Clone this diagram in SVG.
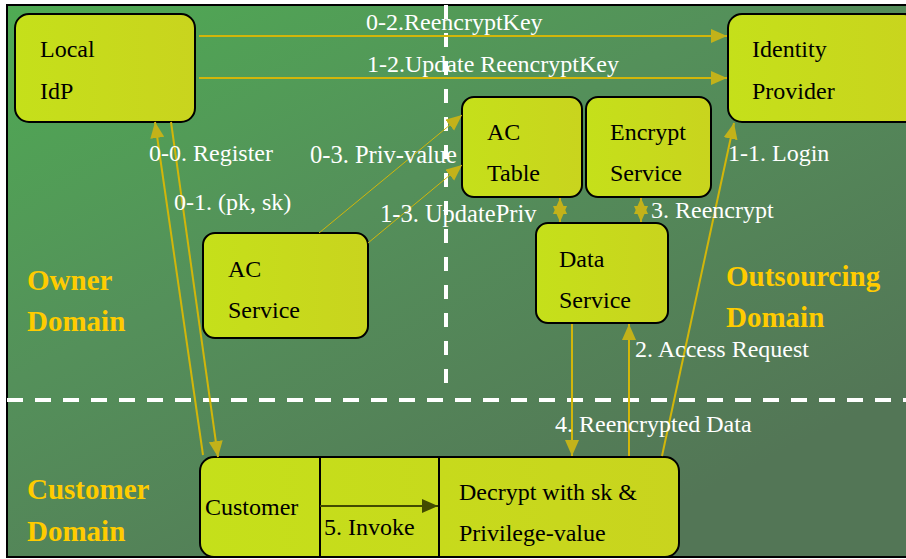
<svg xmlns="http://www.w3.org/2000/svg" width="906" height="559" viewBox="0 0 906 559">
<defs>
<linearGradient id="bg" x1="0" y1="0" x2="0.75" y2="0.9">
<stop offset="0" stop-color="#4fab53"/>
<stop offset="0.45" stop-color="#54905a"/>
<stop offset="1" stop-color="#537656"/>
</linearGradient>
<linearGradient id="nf" x1="0" y1="0" x2="1" y2="0">
<stop offset="0" stop-color="#c5e01a"/>
<stop offset="1" stop-color="#c9d41e"/>
</linearGradient>
<marker id="ah" markerUnits="userSpaceOnUse" markerWidth="18" markerHeight="16" refX="16" refY="7" orient="auto">
<path d="M0,0 L16,7 L0,14 z" fill="#c2b21a"/>
</marker>
<marker id="ahs" markerUnits="userSpaceOnUse" markerWidth="18" markerHeight="16" refX="0" refY="7" orient="auto">
<path d="M16,0 L0,7 L16,14 z" fill="#c2b21a"/>
</marker>
<marker id="ahd" markerUnits="userSpaceOnUse" markerWidth="18" markerHeight="16" refX="16" refY="7" orient="auto">
<path d="M0,0 L16,7 L0,14 z" fill="#424a00"/>
</marker>
</defs>
<style>
.node{fill:url(#nf);stroke:#000;stroke-width:2}
.nt{font-family:"Liberation Serif",serif;font-size:24px;fill:#000}
.lb{font-family:"Liberation Serif",serif;font-size:24px;fill:#fff}
.lb2{font-family:"Liberation Serif",serif;font-size:24.5px;fill:#fff}
.dom{font-family:"Liberation Serif",serif;font-size:29px;font-weight:bold;fill:#ffcc00}
.c{fill:none;stroke:#d2b60a;stroke-width:2}
.ct{fill:none;stroke:#d2b60a;stroke-width:1}
.dash{stroke:#fff;stroke-width:4;fill:none}
</style>
<rect x="7" y="5" width="905" height="552" fill="url(#bg)" stroke="#000" stroke-width="2"/>
<g id="dividers">
<line class="dash" x1="446" y1="5" x2="446" y2="386" stroke-dasharray="14,14"/>
<line class="dash" x1="7" y1="400" x2="906" y2="400" stroke-dasharray="16,12"/>
</g>
<g id="domains">
<text class="dom" x="27" y="290">Owner</text>
<text class="dom" x="27" y="331">Domain</text>
<text class="dom" x="726" y="286">Outsourcing</text>
<text class="dom" x="726" y="327">Domain</text>
<text class="dom" x="27" y="499">Customer</text>
<text class="dom" x="27" y="541">Domain</text>
</g>
<g id="local-idp">
<rect class="node" x="15" y="14" width="180" height="108" rx="14"/>
<text class="nt" x="40" y="57">Local</text>
<text class="nt" x="40" y="99">IdP</text>
</g>
<g id="identity-provider">
<rect class="node" x="728" y="14" width="190" height="108" rx="14"/>
<text class="nt" x="752" y="57">Identity</text>
<text class="nt" x="752" y="99">Provider</text>
</g>
<g id="ac-table">
<rect class="node" x="462" y="97" width="120" height="100" rx="12"/>
<text class="nt" x="487" y="140">AC</text>
<text class="nt" x="487" y="181">Table</text>
</g>
<g id="encrypt-service">
<rect class="node" x="586" y="97" width="125" height="100" rx="12"/>
<text class="nt" x="610" y="140">Encrypt</text>
<text class="nt" x="610" y="181">Service</text>
</g>
<g id="data-service">
<rect class="node" x="536" y="223" width="132" height="100" rx="12"/>
<text class="nt" x="559" y="267">Data</text>
<text class="nt" x="559" y="308">Service</text>
</g>
<g id="ac-service">
<rect class="node" x="203" y="233" width="165" height="105" rx="12"/>
<text class="nt" x="228" y="277">AC</text>
<text class="nt" x="228" y="318">Service</text>
</g>
<g id="customer">
<rect class="node" x="200" y="457" width="479" height="100" rx="14"/>
<line x1="320" y1="457" x2="320" y2="557" stroke="#000" stroke-width="2"/>
<line x1="439" y1="457" x2="439" y2="557" stroke="#000" stroke-width="2"/>
<text class="nt" x="205" y="515">Customer</text>
<text class="nt" x="459" y="500">Decrypt with sk &amp;</text>
<text class="nt" x="459" y="541">Privilege-value</text>
<line x1="320" y1="506" x2="438" y2="506" stroke="#424a00" stroke-width="2" marker-end="url(#ahd)"/>
<text class="nt" x="324" y="535">5. Invoke</text>
</g>
<g id="connectors">
<line class="c" x1="199" y1="36" x2="727" y2="36" marker-end="url(#ah)"/>
<line class="c" x1="199" y1="78" x2="727" y2="78" marker-end="url(#ah)"/>
<line class="c" x1="203" y1="455" x2="155" y2="122" marker-end="url(#ah)"/>
<line class="c" x1="171" y1="122" x2="218" y2="457" marker-end="url(#ah)"/>
<line class="ct" x1="319" y1="233" x2="462" y2="115" marker-end="url(#ah)"/>
<line class="ct" x1="368" y1="243" x2="462" y2="165" marker-end="url(#ah)"/>
<line class="c" x1="560" y1="198" x2="560" y2="222" marker-start="url(#ahs)" marker-end="url(#ah)"/>
<line class="c" x1="641" y1="198" x2="641" y2="222" marker-start="url(#ahs)" marker-end="url(#ah)"/>
<line class="c" x1="662" y1="456" x2="734" y2="123" stroke-width="1.5" marker-end="url(#ah)"/>
<line class="c" x1="572" y1="324" x2="572" y2="456" marker-end="url(#ah)"/>
<line class="c" x1="629" y1="456" x2="629" y2="324" marker-end="url(#ah)"/>
</g>
<g id="labels">
<text class="lb" x="366" y="30">0-2.ReencryptKey</text>
<text class="lb" x="367" y="72">1-2.Update ReencryptKey</text>
<text class="lb" x="149" y="161">0-0. Register</text>
<text class="lb2" x="310" y="163">0-3. Priv-value</text>
<text class="lb" x="174" y="210">0-1. (pk, sk)</text>
<text class="lb2" x="380" y="222">1-3. UpdatePriv</text>
<text class="lb" x="651" y="218">3. Reencrypt</text>
<text class="lb" x="728" y="161">1-1. Login</text>
<text class="lb" x="635" y="357">2. Access Request</text>
<text class="lb" x="555" y="432">4. Reencrypted Data</text>
</g>
</svg>
